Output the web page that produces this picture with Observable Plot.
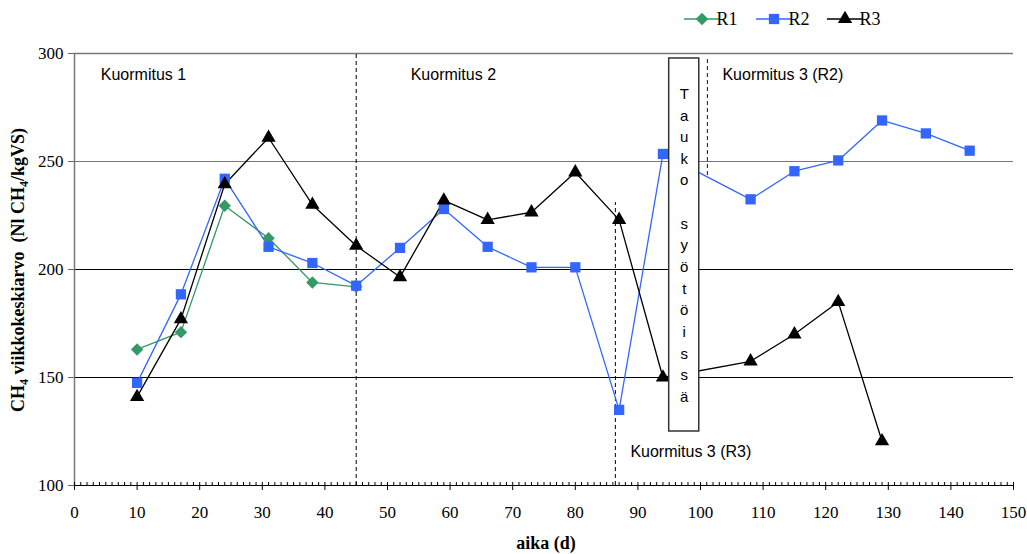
<!DOCTYPE html>
<html>
<head>
<meta charset="utf-8">
<script src="https://cdn.jsdelivr.net/npm/d3@7"></script>
<script src="https://cdn.jsdelivr.net/npm/@observablehq/plot@0.6"></script>
<style>
  html, body { margin: 0; padding: 0; background: #fff; }
  .serifticks text { font-family: "Liberation Serif", "Times New Roman", serif !important; font-size: 17px !important; }
</style>
</head>
<body>
<div id="chart"></div>
<script>
// ---- data ----
const r1Days = [10, 17, 24, 31, 38, 45];
const r1Vals = [163, 171, 229.5, 214.5, 194, 192];
const r2Days = [10, 17, 24, 31, 38, 45, 52, 59, 66, 73, 80, 87, 94, 108, 115, 122, 129, 136, 143];
const r2Vals = [147.5, 188.5, 242, 210.5, 203, 192.5, 210, 228, 210.5, 201, 201, 135, 253.5, 232.5, 245.5, 250.5, 269, 263, 255];
const r3Days = [10, 17, 24, 31, 38, 45, 52, 59, 66, 73, 80, 87, 94, 108, 115, 122, 129];
const r3Vals = [141, 177, 239.5, 261, 230, 211, 196.5, 232, 223, 226.5, 245, 223, 150, 157.5, 170, 185, 120.5];
const seriesNames = ["R1", "R2", "R3"];
const seriesColors = ["#339966", "#3366FF", "#000000"];
const xTicks = [0, 10, 20, 30, 40, 50, 60, 70, 80, 90, 100, 110, 120, 130, 140, 150];
const yTicks = [100, 150, 200, 250, 300];
const phaseLabels = ["Kuormitus 1", "Kuormitus 2", "Kuormitus 3 (R2)", "Kuormitus 3 (R3)"];
const phaseLabelX = [4.2, 53.7, 103.5, 88.8];
const phaseLabelY = [290.3, 290.3, 290.3, 115.7];
const pauseText = "Tauko syötöissä";
const pauseBox = {x1: 95.0, x2: 99.8, y1: 125, y2: 297.7};

const toRows = (days, vals, s) => days.map((d, i) => ({day: d, v: vals[i], s}));
const rows1 = toRows(r1Days, r1Vals, "R1");
const rows2 = toRows(r2Days, r2Vals, "R2");
const rows3 = toRows(r3Days, r3Vals, "R3");

const serif = "Liberation Serif, Times New Roman, serif";
const sans = "Liberation Sans, Arial, sans-serif";

const pauseVertical = pauseText.split("").map(c => c === " " ? "" : c).join("\n");
const markerR = [5.6, 5.8, 5.3];

const W = 1027, H = 554;
const plot = Plot.plot({
  width: W,
  height: H,
  marginTop: 53,
  marginBottom: 69,
  marginLeft: 74,
  marginRight: 14,
  style: {fontFamily: serif, fontSize: "17px", background: "#fff", overflow: "visible"},
  x: {domain: [0, 150]},
  y: {domain: [100, 300]},
  marks: [
    // gridlines & frame
    Plot.ruleY([150, 200], {stroke: "#000", strokeWidth: 1}),
    Plot.ruleY([250], {stroke: "#777", strokeWidth: 1}),
    Plot.ruleY([300], {stroke: "#777", strokeWidth: 1.5}),
    Plot.ruleX([0], {stroke: "#777", strokeWidth: 1.5}),
    // phase separators
    Plot.ruleX([45], {y1: 100, y2: 300, stroke: "#000", strokeDasharray: "4,3"}),
    Plot.ruleX([86.4], {y1: 100, y2: 231, stroke: "#000", strokeDasharray: "4,3"}),
    Plot.ruleX([101.1], {y1: 243.5, y2: 297.5, stroke: "#0000cc", strokeDasharray: "4,3"}),
    // axes
    Plot.axisX({ticks: d3.range(0, 151, 1), tickSize: 3, text: null, dy: -3, stroke: "#000"}),
    Plot.axisX({ticks: xTicks, tickSize: 5, tickPadding: 15, tickFormat: d => d, stroke: "#000", fontSize: 17, fontFamily: serif, label: null, className: "serifticks"}),
    Plot.ruleY([100], {stroke: "#000", strokeWidth: 1}),
    Plot.axisY({ticks: yTicks, tickSize: 6, tickPadding: 5, tickFormat: d => d, stroke: "#666", fontSize: 17, fontFamily: serif, label: null, className: "serifticks"}),
    // series
    Plot.line(rows1, {x: "day", y: "v", stroke: seriesColors[0], strokeWidth: 1.3}),
    Plot.line(rows2, {x: "day", y: "v", stroke: seriesColors[1], strokeWidth: 1.3}),
    Plot.line(rows3, {x: "day", y: "v", stroke: seriesColors[2], strokeWidth: 1.3}),
    Plot.dot(rows1, {x: "day", y: "v", symbol: "diamond2", r: markerR[0], fill: seriesColors[0], stroke: null}),
    Plot.dot(rows2, {x: "day", y: "v", symbol: "square", r: markerR[1], fill: seriesColors[1], stroke: null}),
    Plot.dot(rows3, {x: "day", y: "v", symbol: "triangle", r: markerR[2], fill: seriesColors[2], stroke: null}),
    // pause box
    Plot.rect([pauseBox], {x1: "x1", x2: "x2", y1: "y1", y2: "y2", fill: "#fff", stroke: "#333", strokeWidth: 1.5}),
    Plot.text([{x: (pauseBox.x1 + pauseBox.x2) / 2, y: 286.1, t: pauseVertical}], {x: "x", y: "y", text: "t", lineAnchor: "top", lineHeight: 1.443, fontSize: 15, fontFamily: sans, fill: "#000"}),
    // phase labels
    Plot.text(phaseLabels.map((t, i) => ({t, x: phaseLabelX[i], y: phaseLabelY[i]})), {x: "x", y: "y", text: "t", textAnchor: "start", fontSize: 16, fontFamily: sans, fill: "#000"})
  ]
});
document.getElementById("chart").appendChild(plot);

const svg = d3.select(plot);
// force serif tick labels
svg.selectAll('g[aria-label="x-axis tick label"], g[aria-label="y-axis tick label"]')
  .attr("font-family", serif).attr("font-size", 17)
  .selectAll("text").attr("font-family", serif);

// y-axis title
const yt = svg.append("text")
  .attr("transform", "translate(24,270) rotate(-90)")
  .attr("text-anchor", "middle")
  .attr("font-family", serif)
  .attr("font-weight", "bold")
  .attr("font-size", 18)
  .attr("fill", "#000")
  .style("white-space", "pre");
yt.append("tspan").text("CH");
yt.append("tspan").attr("font-size", 12).attr("dy", 4).text("4");
yt.append("tspan").attr("dy", -4).text(" viikkokeskiarvo  (Nl CH");
yt.append("tspan").attr("font-size", 12).attr("dy", 4).text("4");
yt.append("tspan").attr("dy", -4).text("/kgVS)");
// x-axis title
svg.append("text")
  .attr("x", 546).attr("y", 549)
  .attr("text-anchor", "middle")
  .attr("font-family", serif)
  .attr("font-weight", "bold")
  .attr("font-size", 18)
  .attr("fill", "#000")
  .text("aika (d)");
// legend
const legendX = [684, 756, 827];
const symbols = [d3.symbolDiamond2, d3.symbolSquare, d3.symbolTriangle];
const lg = svg.append("g").attr("transform", "translate(0,19)");
seriesNames.forEach((name, i) => {
  const x0 = legendX[i];
  lg.append("line").attr("x1", x0).attr("x2", x0 + 36).attr("y1", 0).attr("y2", 0)
    .attr("stroke", seriesColors[i]).attr("stroke-width", 1.3);
  lg.append("path").attr("d", d3.symbol(symbols[i], Math.PI * markerR[i] * markerR[i])())
    .attr("transform", `translate(${x0 + 18},0)`).attr("fill", seriesColors[i]);
  lg.append("text").attr("x", x0 + 43).attr("y", 0).attr("dy", "0.35em")
    .attr("font-family", serif).attr("font-size", 18).attr("fill", "#000").text(name);
});
</script>
</body>
</html>
